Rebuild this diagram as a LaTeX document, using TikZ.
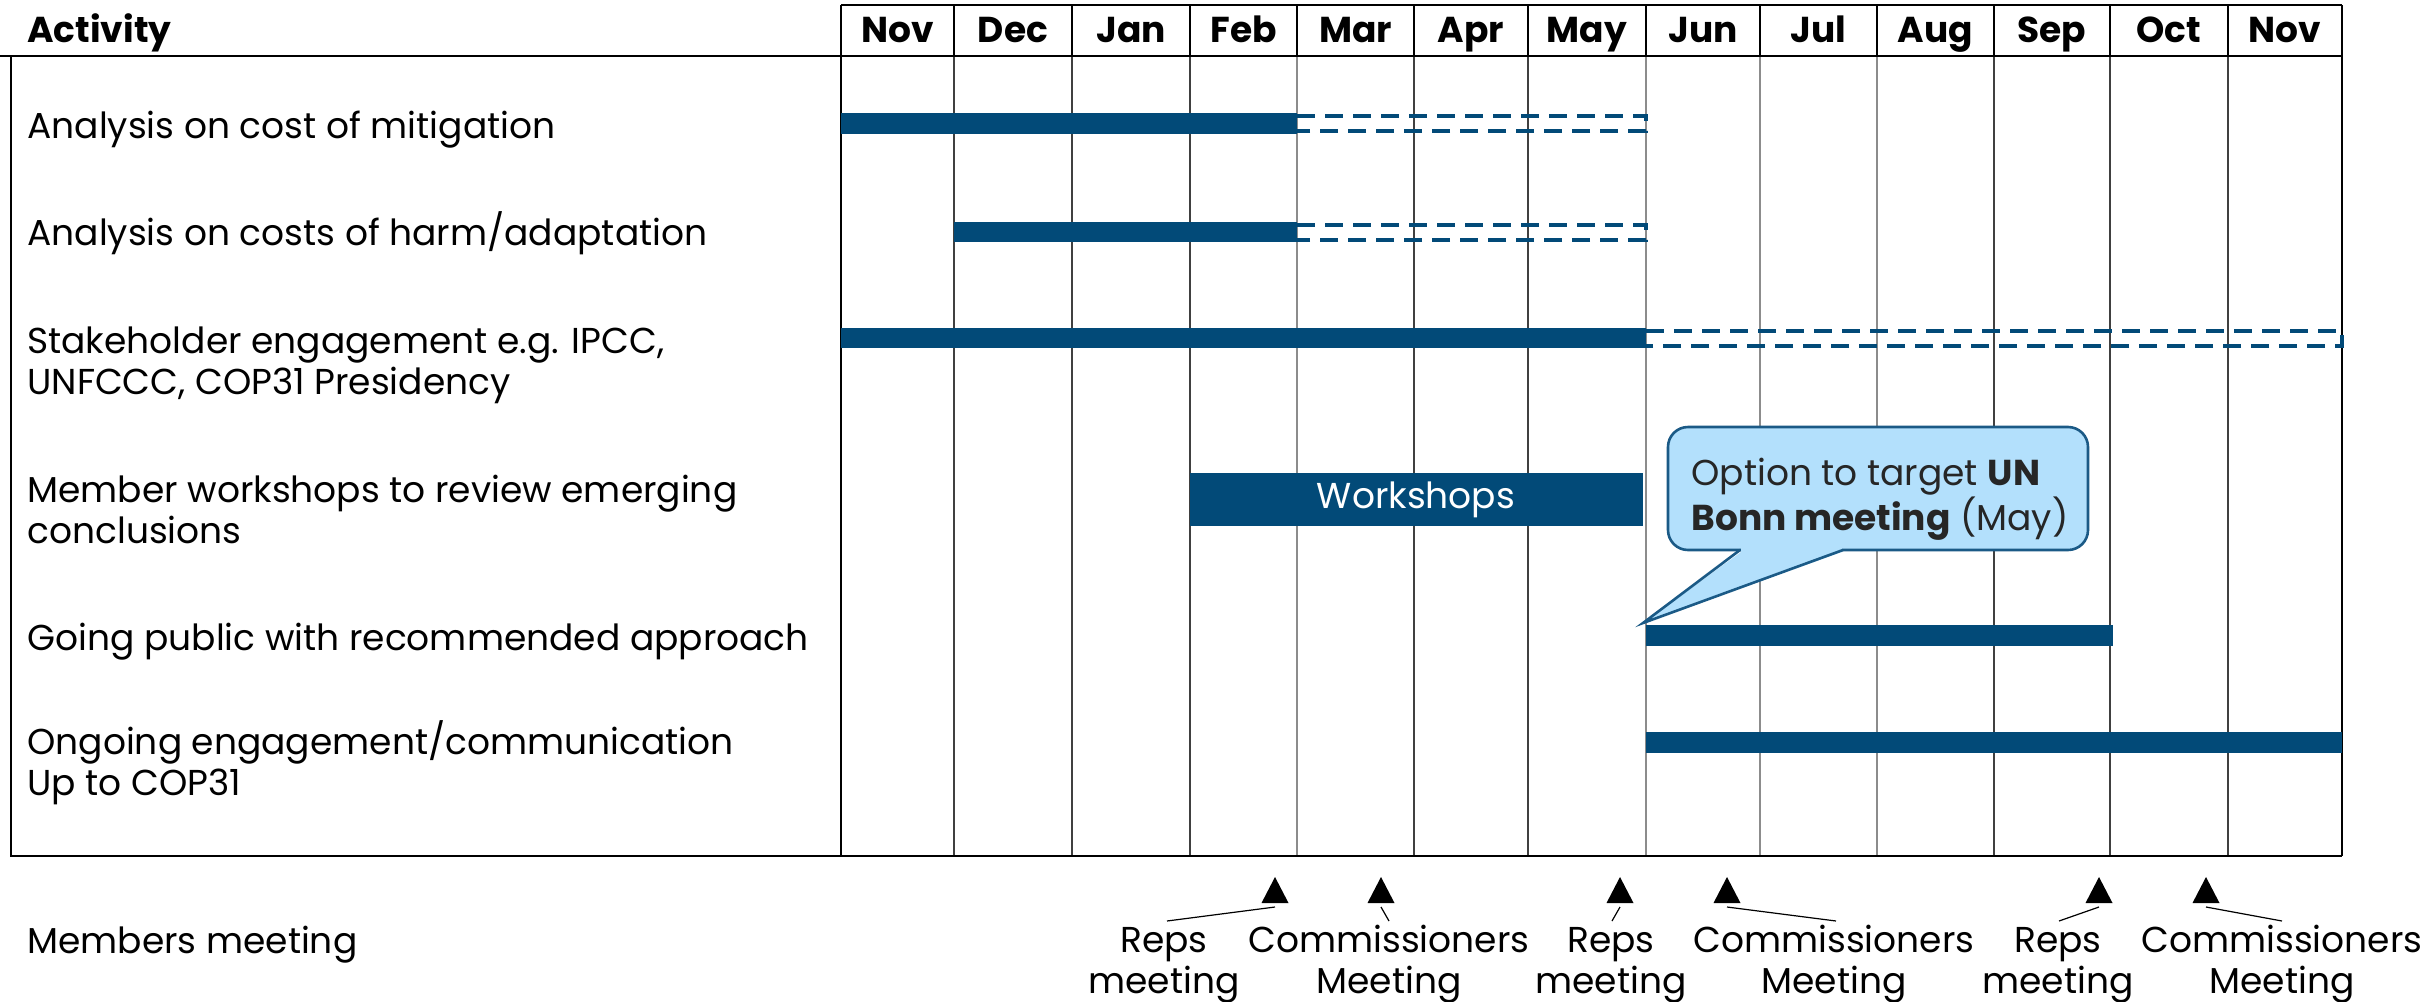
\documentclass[tikz,border=0pt]{standalone}
\usepackage{fontspec}
\setmainfont{Poppins}
\definecolor{barblue}{HTML}{024A78}
\definecolor{callfill}{HTML}{B3E0FC}
\definecolor{callline}{HTML}{1B5A86}
\definecolor{calltext}{HTML}{262626}
\definecolor{gridA}{HTML}{404040}
\definecolor{gridB}{HTML}{8C8C8C}
\begin{document}
\begin{tikzpicture}[x=0.5pt,y=-0.5pt,
  frame/.style={line width=1.3pt, black},
  hsep/.style={line width=1pt, black},
  gridline/.style={line width=0.75pt, gridA},
  gridlight/.style={line width=0.75pt, gridB},
  bar/.style={fill=barblue, draw=none},
  planned/.style={draw=barblue, line width=1.6pt, dash pattern=on 9pt off 5pt},
  month/.style={anchor=base, inner sep=0, font=\fontsize{18}{20}\selectfont\bfseries},
  activity/.style={anchor=base west, inner sep=0, align=left, font=\fontsize{18}{20.5}\selectfont},
  meetlbl/.style={anchor=base, inner sep=0, align=center, font=\fontsize{18}{20.5}\selectfont},
  marker/.style={fill=black},
  leader/.style={line width=0.6pt, black},
  callbox/.style={draw=callline, fill=callfill, line width=1.3pt, rounded corners=10pt},
]
\useasboundingbox (0,0) rectangle (2433,1002);
\fill[white] (0,0) rectangle (2433,1002);

% body grid lines
\foreach \b in {954,1072,1190,1414,1528,1994,2110,2228}
  \draw[gridline] (\b,56) -- (\b,856);
\foreach \b in {1297,1646,1760,1877}
  \draw[gridlight] (\b,56) -- (\b,856);
% header separators
\foreach \b in {954,1072,1190,1297,1414,1528,1646,1760,1877,1994,2110,2228}
  \draw[hsep] (\b,5) -- (\b,56);

% frame
\draw[frame] (11,56) -- (11,856) -- (2342,856);
\draw[frame] (0,56) -- (2342,56);
\draw[frame] (841,5) -- (2342,5);
\draw[frame] (841,5) -- (841,856);
\draw[frame] (2342,5) -- (2342,856);

% header
\node[month, anchor=base west] (acthdr) at (27,42) {Activity};
\foreach \l/\r/\m [count=\i] in {841/954/Nov,954/1072/Dec,1072/1190/Jan,1190/1297/Feb,1297/1414/Mar,1414/1528/Apr,1528/1646/May,1646/1760/Jun,1760/1877/Jul,1877/1994/Aug,1994/2110/Sep,2110/2228/Oct,2228/2342/Nov}
  \node[month] (m\i) at ({(\l+\r)/2},42) {\m};

% activity labels (base = last line)
\node[activity] (a1) at (27,138) {Analysis on cost of mitigation};
\node[activity] (a2) at (27,245) {Analysis on costs of harm/adaptation};
\node[activity] (a3) at (27,394) {Stakeholder engagement e.g. IPCC,\\UNFCCC, COP31 Presidency};
\node[activity] (a4) at (27,543) {Member workshops to review emerging\\conclusions};
\node[activity] (a5) at (27,650) {Going public with recommended approach};
\node[activity] (a6) at (27,795) {Ongoing engagement/communication\\Up to COP31};
\node[activity] (a7) at (27,953) {Members meeting};

% bars
\fill[bar] (841,113) rectangle (1297,134);
\draw[planned] (1297,116) -- (1646,116) -- (1646,131) -- (1297,131);
\fill[bar] (954,222) rectangle (1297,242);
\draw[planned] (1297,225) -- (1646,225) -- (1646,240) -- (1297,240);
\fill[bar] (841,328) rectangle (1646,348);
\draw[planned] (1646,331) -- (2342,331) -- (2342,346) -- (1646,346);
\fill[bar] (1190,473) rectangle (1643,526);
\node[anchor=base, inner sep=0, text=white, font=\fontsize{18}{20}\selectfont] (ws) at (1416,508) {Workshops};
\fill[bar] (1646,625) rectangle (2113,646);
\fill[bar] (1646,732) rectangle (2342,753);

% callout
\node[callbox, minimum width=210pt, minimum height=61.5pt, inner sep=0] (callout) at (1878,488.5) {};
\fill[callfill] (1741,547) -- (1842,547) -- (1842,552) -- (1643,623) -- (1741,552) -- cycle;
\coordinate (tip) at (1643,623);
\draw[callline, line width=1.3pt] (1740,550) -- (tip) -- (1843,550);
\node[anchor=base west, inner sep=0, align=left, text=calltext, font=\fontsize{18}{22.5}\selectfont] (calltxt) at (1691,530) {Option to target \textbf{UN}\\\textbf{Bonn meeting} (May)};

% meeting markers
\foreach \x [count=\i] in {1275,1381,1620,1727,2099,2206} {
  \fill[marker] (\x-13.5,903) -- (\x+13.5,903) -- (\x,877) -- cycle;
  \coordinate (tri\i) at (\x,907);
}
\node[meetlbl] (r1) at (1164,993) {Reps\\meeting};
\node[meetlbl] (c1) at (1389,993) {Commissioners\\Meeting};
\node[meetlbl] (r2) at (1611,993) {Reps\\meeting};
\node[meetlbl] (c2) at (1834,993) {Commissioners\\Meeting};
\node[meetlbl] (r3) at (2058,993) {Reps\\meeting};
\node[meetlbl] (c3) at (2282,993) {Commissioners\\Meeting};
\coordinate (e1) at (1167,921);
\coordinate (e2) at (1389,921);
\coordinate (e3) at (1612,921);
\coordinate (e4) at (1836,921);
\coordinate (e5) at (2059,921);
\coordinate (e6) at (2282,921);
\foreach \i in {1,...,6}
  \draw[leader] (tri\i) -- (e\i);
\end{tikzpicture}
\end{document}
